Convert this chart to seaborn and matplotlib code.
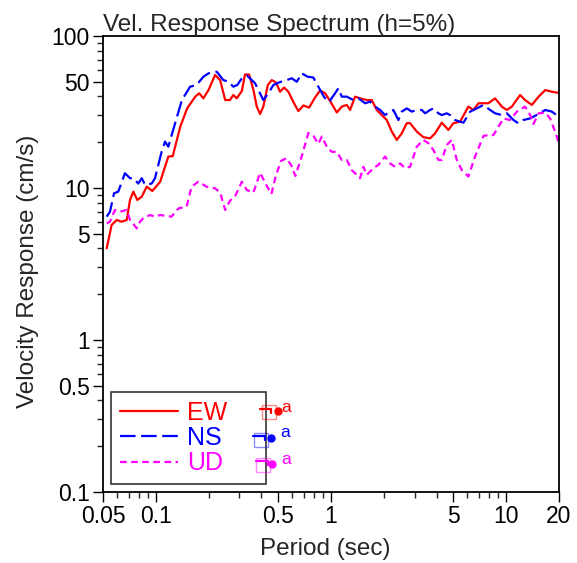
import numpy as np
import pandas as pd
import seaborn as sns
import matplotlib
matplotlib.use("Agg")
import matplotlib.pyplot as plt
from matplotlib.lines import Line2D
from matplotlib.ticker import FixedLocator, FixedFormatter, NullFormatter

# ---------------- data ----------------
ew_period = [0.0525, 0.056, 0.0599, 0.0639, 0.0683, 0.0713, 0.0745, 0.0785, 0.0832, 0.0888,
             0.0956, 0.106, 0.118, 0.125, 0.138, 0.151, 0.168, 0.177, 0.187, 0.200,
             0.218, 0.233, 0.249, 0.265, 0.277, 0.290, 0.310, 0.323, 0.341, 0.361,
             0.377, 0.394, 0.411, 0.436, 0.459, 0.486, 0.512, 0.540, 0.571, 0.610,
             0.651, 0.696, 0.750, 0.811, 0.866, 0.925, 0.988, 1.079, 1.152, 1.230,
             1.285, 1.372, 1.466, 1.600, 1.709, 1.824, 2.081, 2.223, 2.374, 2.535,
             2.707, 2.827, 3.087, 3.367, 3.677, 3.926, 4.288, 4.676, 4.993, 5.45,
             6.08, 6.50, 6.94, 7.91, 8.64, 9.44, 10.08, 10.76, 12.0, 12.8,
             14.0, 15.3, 16.7, 18.2, 20.0]
ew_vel = [4.01, 5.71, 6.16, 6.00, 6.16, 8.34, 9.46, 8.34, 8.77, 10.2,
          9.56, 11.0, 16.1, 16.2, 25.3, 33.4, 39.9, 42.0, 38.9, 44.1,
          55.4, 51.3, 37.9, 37.9, 40.9, 38.9, 43.5, 55.8, 55.8, 44.1,
          34.3, 30.7, 34.3, 47.6, 51.3, 49.4, 43.0, 45.8, 43.0, 36.8,
          32.1, 34.9, 33.8, 39.4, 43.8, 42.0, 37.4, 31.4, 34.3, 35.2,
          32.6, 39.9, 38.9, 37.9, 37.9, 32.6, 28.0, 23.5, 20.7, 22.9,
          26.7, 26.7, 23.5, 21.6, 21.2, 22.9, 26.9, 24.1, 26.7, 27.3,
          34.3, 32.6, 36.1, 36.1, 38.9, 34.3, 32.6, 34.3, 40.9, 37.9,
          35.2, 39.9, 44.1, 43.0, 42.2]

ns_period = [0.0525, 0.0548, 0.0578, 0.0611, 0.0667, 0.0713, 0.0745, 0.0795, 0.0832, 0.0869,
             0.0948, 0.0990, 0.108, 0.113, 0.118, 0.129, 0.141, 0.157, 0.171, 0.187,
             0.200, 0.223, 0.243, 0.260, 0.277, 0.292, 0.310, 0.331, 0.353, 0.369,
             0.385, 0.411, 0.439, 0.469, 0.512, 0.559, 0.597, 0.638, 0.681, 0.735,
             0.793, 0.855, 0.913, 0.975, 1.055, 1.102, 1.152, 1.230, 1.342, 1.433,
             1.565, 1.671, 1.784, 1.906, 2.035, 2.173, 2.270, 2.424, 2.535, 2.707,
             2.890, 3.087, 3.297, 3.443, 3.677, 3.839, 4.100, 4.288, 4.579, 4.782,
             5.11, 5.45, 5.70, 6.22, 6.79, 7.41, 8.09, 8.64, 9.44, 10.08,
             11.0, 11.7, 12.5, 13.7, 14.9, 16.7, 18.2, 20.0]
ns_vel = [6.48, 6.98, 9.23, 9.46, 12.5, 11.6, 11.6, 10.7, 11.6, 10.5,
          10.7, 11.6, 17.3, 20.2, 18.7, 26.7, 37.9, 46.4, 47.6, 54.0,
          56.8, 58.2, 51.3, 50.0, 46.4, 47.6, 52.7, 55.0, 51.3, 48.8,
          44.1, 37.9, 42.0, 47.6, 49.8, 51.3, 52.7, 50.0, 56.8, 54.0,
          53.3, 45.5, 39.7, 36.8, 42.0, 45.3, 39.9, 39.9, 37.9, 38.9,
          36.1, 37.0, 34.3, 32.6, 30.2, 31.8, 32.6, 28.0, 31.8, 33.4,
          31.8, 32.6, 32.6, 31.0, 32.6, 33.4, 31.0, 30.2, 31.0, 30.2,
          28.0, 27.3, 26.9, 31.8, 33.4, 35.2, 32.6, 31.0, 30.2, 31.0,
          28.0, 26.7, 28.0, 28.7, 30.2, 32.6, 31.8, 29.4]

ud_period = [0.0525, 0.0548, 0.0585, 0.0625, 0.0683, 0.0713, 0.0779, 0.0813, 0.0849, 0.0927,
             0.0990, 0.106, 0.1155, 0.123, 0.135, 0.150, 0.160, 0.175, 0.195, 0.218,
             0.233, 0.249, 0.265, 0.283, 0.310, 0.331, 0.361, 0.394, 0.423, 0.457,
             0.484, 0.519, 0.559, 0.597, 0.626, 0.681, 0.743, 0.793, 0.847, 0.886,
             0.950, 1.010, 1.079, 1.152, 1.230, 1.314, 1.403, 1.466, 1.530, 1.600,
             1.745, 1.864, 2.035, 2.173, 2.321, 2.479, 2.647, 2.827, 3.087, 3.367,
             3.595, 3.839, 4.100, 4.288, 4.579, 4.889, 5.22, 5.58, 6.08, 6.64,
             7.41, 7.91, 8.45, 9.03, 9.64, 10.5, 11.5, 12.8, 13.7, 14.3,
             15.3, 16.7, 17.8, 19.0, 20.0]
ud_vel = [5.86, 6.00, 7.17, 6.98, 7.17, 6.16, 5.43, 6.00, 6.32, 6.64,
          6.48, 6.64, 6.54, 6.48, 7.35, 7.54, 10.2, 11.0, 10.2, 9.95,
          9.34, 7.17, 8.24, 8.77, 11.0, 9.70, 9.34, 12.6, 10.7, 9.13,
          12.0, 15.1, 15.7, 13.9, 12.0, 16.2, 23.0, 22.0, 19.5, 21.8,
          18.5, 17.3, 17.3, 15.3, 15.3, 13.1, 12.2, 11.6, 13.8, 12.2,
          13.5, 14.2, 16.1, 14.5, 13.8, 14.5, 13.5, 13.8, 18.7, 20.7,
          19.7, 17.8, 15.3, 15.3, 19.2, 20.7, 15.3, 13.1, 11.9, 16.1,
          22.0, 22.3, 22.3, 25.3, 28.7, 28.0, 31.8, 34.3, 30.2, 26.4,
          31.0, 31.3, 28.7, 23.5, 19.7]

components = ["EW", "NS", "UD"]
x_ticks = [0.05, 0.1, 0.5, 1, 5, 10, 20]
x_tick_labels = ["0.05", "0.1", "0.5", "1", "5", "10", "20"]
y_ticks = [0.1, 0.5, 1, 5, 10, 50, 100]
y_tick_labels = ["0.1", "0.5", "1", "5", "10", "50", "100"]

# ---------------- styling ----------------
sns.set_style("ticks")
plt.rcParams["font.family"] = ["Liberation Sans", "DejaVu Sans"]

colors = {"EW": "#ff0000", "NS": "#0000ff", "UD": "#ff00ff"}

df = pd.concat([
    pd.DataFrame({"Period": ew_period, "Vel": ew_vel, "comp": "EW"}),
    pd.DataFrame({"Period": ns_period, "Vel": ns_vel, "comp": "NS"}),
    pd.DataFrame({"Period": ud_period, "Vel": ud_vel, "comp": "UD"}),
], ignore_index=True)

fig = plt.figure(figsize=(5.77, 5.63), dpi=100)
ax = fig.add_axes([103 / 577, 1 - 492 / 563, 456 / 577, 456 / 563])

for comp in components:
    sub = df[df["comp"] == comp]
    sns.lineplot(data=sub, x="Period", y="Vel", ax=ax, color=colors[comp],
                 linewidth=1.6, label=comp, estimator=None, sort=False)
    ln = ax.get_lines()[-1]
    if comp == "NS":
        ln.set_dashes((7, 2.5))
    elif comp == "UD":
        ln.set_dashes((3, 2))

ax.set_xscale("log")
ax.set_yscale("log")
ax.set_xlim(0.05, 20)
ax.set_ylim(0.1, 100)

ax.xaxis.set_major_locator(FixedLocator(x_ticks))
ax.xaxis.set_major_formatter(FixedFormatter(x_tick_labels))
ax.yaxis.set_major_locator(FixedLocator(y_ticks))
ax.yaxis.set_major_formatter(FixedFormatter(y_tick_labels))
xminor = [m * 10.0 ** e for e in range(-2, 2) for m in range(1, 10)]
xminor = [v for v in xminor if 0.05 <= v <= 20 and v not in x_ticks]
yminor = [m * 10.0 ** e for e in range(-1, 2) for m in range(1, 10)]
yminor = [v for v in yminor if 0.1 <= v <= 100 and v not in y_ticks]
ax.xaxis.set_minor_locator(FixedLocator(xminor))
ax.yaxis.set_minor_locator(FixedLocator(yminor))
ax.xaxis.set_minor_formatter(NullFormatter())
ax.yaxis.set_minor_formatter(NullFormatter())

ax.tick_params(which="major", direction="out", length=7, width=1.0, labelsize=16.5,
               colors="black", pad=2.5)
ax.tick_params(which="minor", direction="out", length=4.5, width=1.0)
for s in ax.spines.values():
    s.set_linewidth(1.3)
    s.set_color("black")
    s.set_visible(True)

ax.set_xlabel("Period (sec)", fontsize=17.5)
ax.set_ylabel("Velocity Response (cm/s)", fontsize=17.5)
ax.xaxis.set_label_coords(0.487, -0.0998)
ax.yaxis.set_label_coords(-0.1414, 0.4836)
ax.set_title("Vel. Response Spectrum (h=5%)", loc="left", fontsize=17.5, pad=2)

leg = ax.legend(loc="lower left", bbox_to_anchor=(0.0175, 0.0175, 0.34, 0.2),
                mode="expand", fontsize=18, handlelength=2.35, handletextpad=0.35,
                labelspacing=0.05, borderpad=0.35, frameon=True, fancybox=False,
                borderaxespad=0.0)
leg.get_frame().set_edgecolor("black")
leg.get_frame().set_linewidth(1.2)
for txt, comp in zip(leg.get_texts(), components):
    txt.set_color(colors[comp])

# small marker artifacts next to the legend
tf = fig.transFigure
def fx(px):
    return px / 577
def fy(py):
    return 1 - py / 563
artifacts = {"EW": (268.5, 412, 260, 271, 409, 277.7, 411, 281.5, 407),
             "NS": (261, 439.5, 253, 265, 436, 270.7, 437.7, 280, 432.5),
             "UD": (262.5, 465, 256, 268, 461, 272.3, 464, 281, 459)}
for comp in components:
    sx, sy, l0, l1, ly, dx, dy, ax_, ay = artifacts[comp]
    c = colors[comp]
    fig.add_artist(Line2D([fx(sx)], [fy(sy)], transform=tf, marker="s", markersize=10,
                          markerfacecolor="none", markeredgecolor=c, alpha=0.45,
                          markeredgewidth=1.0, linestyle="none"))
    fig.add_artist(Line2D([fx(l0), fx(l1), fx(l1)], [fy(ly), fy(ly), fy(ly + 4)],
                          transform=tf, color=c, linewidth=1.6))
    fig.add_artist(Line2D([fx(dx)], [fy(dy)], transform=tf, marker="o", markersize=5,
                          color=c, linestyle="none"))
    fig.text(fx(ax_), fy(ay), "a", color=c, fontsize=12.5, transform=tf,
             ha="left", va="center")

fig.savefig("out.png", dpi=100)
